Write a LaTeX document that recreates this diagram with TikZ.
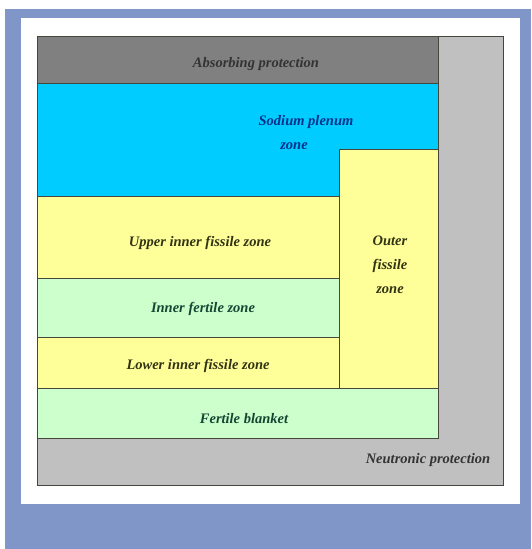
\documentclass[tikz,border=0pt]{standalone}
\usepackage{fontspec}
\setmainfont{Liberation Serif}
\usepackage{xcolor}
\usepackage{tikz}
\usetikzlibrary{positioning}
\definecolor{framebg}{RGB}{128,150,201}
\definecolor{absgray}{RGB}{128,128,128}
\definecolor{neugray}{RGB}{192,192,192}
\definecolor{sodcyan}{RGB}{0,204,255}
\definecolor{fisyel}{RGB}{255,255,153}
\definecolor{fergrn}{RGB}{204,255,204}
\definecolor{edge}{RGB}{70,70,60}
\tikzset{
	zone/.style={draw=edge, line width=0.7pt, inner sep=0pt, outer sep=0pt, anchor=north west},
	txt/.style={align=center, inner sep=0pt, font=\fontsize{14.5}{24}\selectfont\bfseries\itshape},
	fis/.style={zone, fill=fisyel},
	fer/.style={zone, fill=fergrn},
}

\begin{document}
\begin{tikzpicture}[x=1pt, y=-1pt]
				\useasboundingbox (0,0) rectangle (531,549);
				\fill[white] (0,0) rectangle (531,549);
				\node[fill=framebg, minimum width=526pt, minimum height=540pt, inner sep=0pt, anchor=north west] at (5,9) (frame) {};
				\node[fill=white, minimum width=499pt, minimum height=486pt, inner sep=0pt, anchor=north west] at (21,18) (panel) {};
				\node[zone, fill=neugray, minimum width=466pt, minimum height=449pt] at (37,36) (neut) {};
				\node[zone, fill=absgray, minimum width=401pt, minimum height=47pt] at (37,36) (absp) {};
				\node[zone, fill=sodcyan, minimum width=401pt, minimum height=113pt] at (37,83) (sod) {};
				\node[fis, minimum width=99pt, minimum height=239pt] at (339,149) (outer) {};
				\node[fis, minimum width=302pt, minimum height=82pt] at (37,196) (upper) {};
				\node[fer, minimum width=302pt, minimum height=59pt] at (37,278) (infer) {};
				\node[fis, minimum width=302pt, minimum height=51pt] at (37,337) (lower) {};
				\node[fer, minimum width=401pt, minimum height=50pt] at (37,388) (blanket) {};
				\node[txt, text=black!80] at (256,64) (absptxt) {Absorbing protection};
				\node[txt, text={rgb,255:red,0;green,50;blue,140}] at (306,133) (sodtxt) {Sodium plenum\\\hspace*{-24pt}zone};
				\node[txt, text={rgb,255:red,50;green,50;blue,20}] at (200,243) (uppertxt) {Upper inner fissile zone};
				\node[txt, text={rgb,255:red,20;green,70;blue,50}] at (203,309) (infertxt) {Inner fertile zone};
				\node[txt, text={rgb,255:red,50;green,50;blue,20}] at (198,366) (lowertxt) {Lower inner fissile zone};
				\node[txt, text={rgb,255:red,50;green,50;blue,20}] at (390,265) (outertxt) {Outer\\fissile\\zone};
				\node[txt, text={rgb,255:red,20;green,70;blue,50}] at (244,419) (blankettxt) {Fertile blanket};
				\node[txt, text=black!80] at (428,460) (neuttxt) {Neutronic protection};
			\end{tikzpicture}
\end{document}
